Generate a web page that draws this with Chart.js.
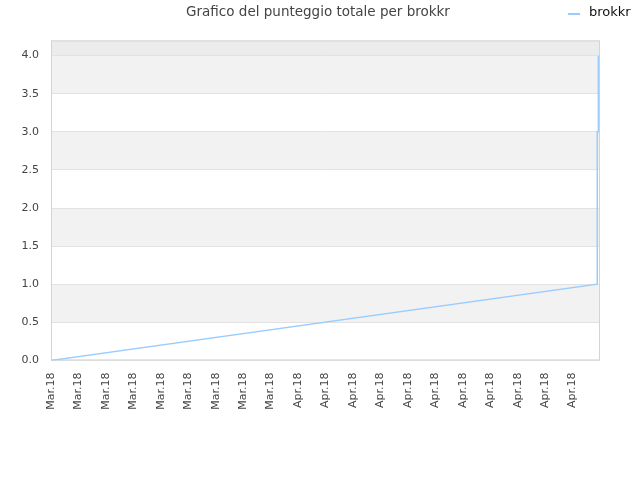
<!DOCTYPE html>
<html>
<head>
<meta charset="utf-8">
<script src="https://cdn.jsdelivr.net/npm/chart.js@4/dist/chart.umd.min.js"></script>
<style>
  html, body { margin: 0; padding: 0; background: #fff; }
  #wrap { width: 640px; height: 480px; }
</style>
</head>
<body>
<div id="wrap"><canvas id="chart" width="640" height="480"></canvas></div>
<script>
const seriesLabel = 'brokkr';
const xTickLabels = [
  'Mar.18', 'Mar.18', 'Mar.18', 'Mar.18', 'Mar.18', 'Mar.18', 'Mar.18', 'Mar.18', 'Mar.18',
  'Apr.18', 'Apr.18', 'Apr.18', 'Apr.18', 'Apr.18', 'Apr.18', 'Apr.18', 'Apr.18', 'Apr.18', 'Apr.18', 'Apr.18'
];
const pointX = [0, 19.9, 19.9, 19.94, 19.94];
const pointY = [0, 1, 3, 3, 4];
const greyBands = [[0.5, 1], [1.5, 2], [2.5, 3], [3.5, 4]];
const topBand = [4, 4.2];

const lineColor = 'rgb(153, 204, 255)';
const textColor = '#444';
const font = 'DejaVu Sans';

const bandsPlugin = {
  id: 'bands',
  beforeDraw(chart) {
    const {ctx, chartArea: a, scales: {y}} = chart;
    ctx.save();
    ctx.fillStyle = '#f2f2f2';
    greyBands.forEach(([lo, hi]) => {
      const top = y.getPixelForValue(hi), bot = y.getPixelForValue(lo);
      ctx.fillRect(a.left, top, a.right - a.left, bot - top);
    });
    ctx.fillStyle = '#ececec';
    const t = y.getPixelForValue(topBand[1]), b = y.getPixelForValue(topBand[0]);
    ctx.fillRect(a.left, t, a.right - a.left, b - t);
    ctx.restore();
  },
  beforeDatasetsDraw(chart) {
    const {ctx, chartArea: a} = chart;
    ctx.save();
    ctx.strokeStyle = '#d4d4d4';
    ctx.lineWidth = 1;
    ctx.strokeRect(a.left + 0.5, a.top + 0.5, a.right - a.left - 1, a.bottom - a.top - 1);
    ctx.restore();
  },
  afterDraw(chart) {
    // small legend on the title row, top right
    const {ctx} = chart;
    ctx.save();
    ctx.strokeStyle = chart.data.datasets[0].borderColor;
    ctx.lineWidth = 2;
    ctx.beginPath();
    ctx.moveTo(568, 14);
    ctx.lineTo(580, 14);
    ctx.stroke();
    ctx.fillStyle = '#111';
    ctx.font = '13px "' + font + '"';
    ctx.textBaseline = 'middle';
    ctx.fillText(chart.data.datasets[0].label, 589, 13);
    ctx.restore();
  }
};

new Chart(document.getElementById('chart'), {
  type: 'line',
  data: {
    datasets: [{
      label: seriesLabel,
      data: pointX.map((x, i) => ({x: x, y: pointY[i]})),
      borderColor: lineColor,
      backgroundColor: lineColor,
      borderWidth: 1.5,
      pointRadius: 0,
      tension: 0,
      fill: false
    }]
  },
  options: {
    responsive: false,
    animation: false,
    layout: {padding: {left: 0, right: 4, top: 0, bottom: 0}},
    plugins: {
      legend: {display: false},
      tooltip: {enabled: false},
      title: {
        display: true,
        text: 'Grafico del punteggio totale per brokkr',
        color: textColor,
        font: {family: font, size: 13.5, weight: 'normal'},
        padding: {top: 4, bottom: 20.2}
      }
    },
    scales: {
      x: {
        type: 'linear',
        min: 0,
        max: 20,
        afterFit(scale) { scale.height = 119.6; },
        afterBuildTicks(scale) {
          scale.ticks = xTickLabels.map((_, i) => ({value: i}));
        },
        grid: {display: false, drawTicks: false},
        border: {display: false},
        ticks: {
          autoSkip: false,
          minRotation: 90,
          maxRotation: 90,
          padding: 12,
          color: textColor,
          font: {family: font, size: 11},
          callback: (v) => xTickLabels[v] ?? ''
        }
      },
      y: {
        min: 0,
        max: 4.2,
        afterFit(scale) { scale.width = 51; },
        grid: {color: '#e2e2e2', drawTicks: false},
        border: {display: false},
        ticks: {
          stepSize: 0.5,
          includeBounds: false,
          padding: 12,
          color: textColor,
          font: {family: font, size: 11},
          callback: (v) => v.toFixed(1)
        }
      },
      // empty right-hand gutter so the plot ends at x=600
      gutter: {
        axis: 'y',
        position: 'right',
        min: 0,
        max: 4.2,
        afterFit(scale) { scale.width = 36; },
        grid: {display: false, drawTicks: false},
        border: {display: false},
        ticks: {display: false}
      }
    }
  },
  plugins: [bandsPlugin]
});
</script>
</body>
</html>
